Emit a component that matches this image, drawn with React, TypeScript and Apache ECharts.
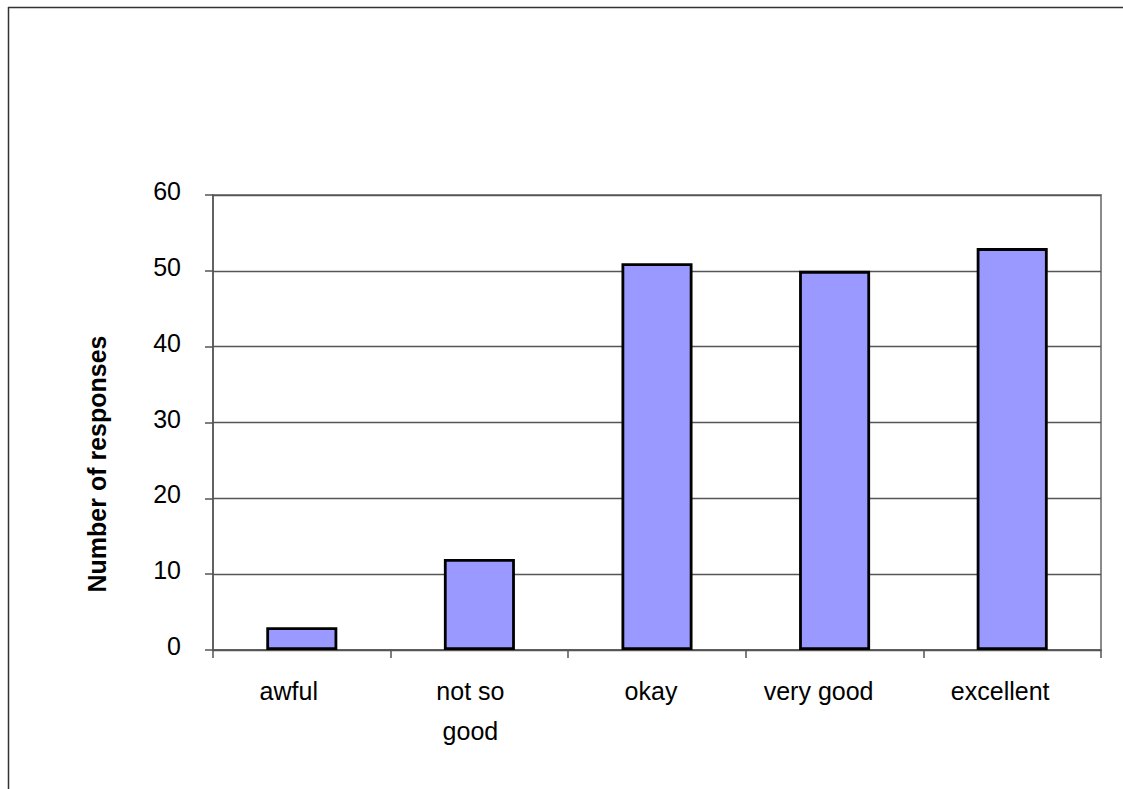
import React, { useEffect, useRef } from "react";
import * as echarts from "echarts";

const categories = ["awful", "not so\ngood", "okay", "very good", "excellent"];
const responses = [3, 12, 51, 50, 53];
const yTicks = { min: 0, max: 60, interval: 10 };
const yTitle = "Number of responses";

// small leftward nudges of the category labels, as in the reference (px)
const labelShift = [13, 9, 6, 16, 12];

const FONT = "Arial, 'Liberation Sans', sans-serif";

export default function App() {
  const ref = useRef<HTMLDivElement>(null);
  useEffect(() => {
    if (!ref.current) return;
    const chart = echarts.init(ref.current, null, { renderer: "svg" });
    chart.setOption({
      animation: false,
      backgroundColor: "#fff",
      grid: {
        left: 213,
        top: 195,
        right: 22,
        bottom: 139,
        show: true,
        borderColor: "#8a8a8a",
        borderWidth: 2,
        backgroundColor: "transparent",
      },
      xAxis: {
        type: "category",
        data: categories.map((c, i) => ({
          value: c,
          textStyle: { padding: [0, labelShift[i] * 2, 0, 0] },
        })),
        axisLine: { show: true, lineStyle: { color: "#555", width: 1.5 } },
        axisTick: { show: true, alignWithLabel: false, length: 8, lineStyle: { color: "#555", width: 1.5 } },
        axisLabel: {
          fontSize: 25,
          fontFamily: FONT,
          color: "#000",
          margin: 21,
          lineHeight: 40,
          interval: 0,
        },
        splitLine: { show: false },
      },
      yAxis: {
        type: "value",
        min: yTicks.min,
        max: yTicks.max,
        interval: yTicks.interval,
        axisLine: { show: true, lineStyle: { color: "#555", width: 1.5 } },
        axisTick: { show: true, length: 8, lineStyle: { color: "#555", width: 1.5 } },
        axisLabel: {
          fontSize: 25,
          fontFamily: FONT,
          color: "#000",
          margin: 32,
          verticalAlign: "bottom",
          lineHeight: 8,
        },
        splitLine: { show: true, lineStyle: { color: "#555", width: 1.3 } },
      },
      series: [
        {
          type: "bar",
          data: responses,
          barWidth: "40%",
          itemStyle: { color: "#9999FF", borderColor: "#000", borderWidth: 2.8 },
        },
      ],
      graphic: [
        {
          type: "line",
          shape: { x1: 8, y1: 7.5, x2: 1123, y2: 7.5 },
          style: { stroke: "#333", lineWidth: 1.5 },
        },
        {
          type: "line",
          shape: { x1: 8.5, y1: 7, x2: 8.5, y2: 789 },
          style: { stroke: "#333", lineWidth: 1.5 },
        },
        {
          type: "text",
          x: 97,
          y: 464,
          rotation: Math.PI / 2,
          style: {
            text: yTitle,
            fontSize: 25,
            fontWeight: "bold",
            fontFamily: FONT,
            fill: "#000",
            textAlign: "center",
            textVerticalAlign: "middle",
          },
        },
      ],
    });
    return () => chart.dispose();
  }, []);
  return (
    <div
      ref={ref}
      style={{ position: "absolute", left: 0, top: 0, width: 1123, height: 789 }}
    />
  );
}
